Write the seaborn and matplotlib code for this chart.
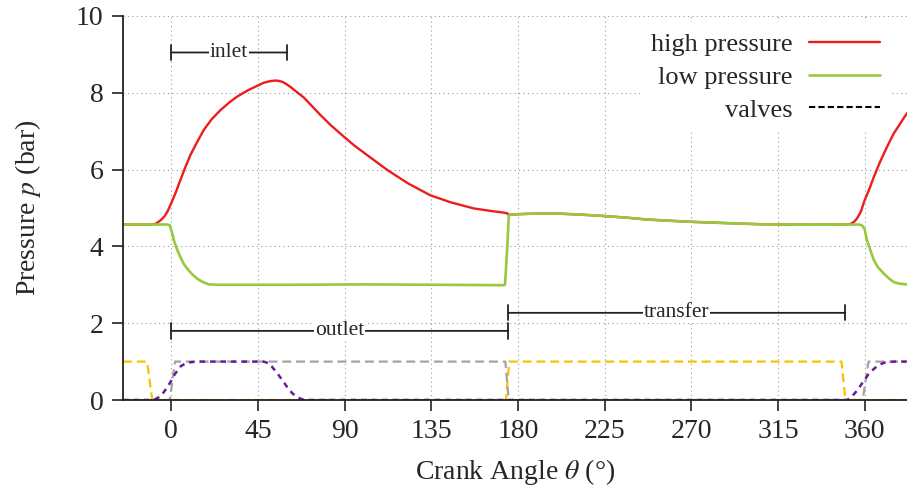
import matplotlib
matplotlib.use("Agg")
import matplotlib.pyplot as plt
import seaborn as sns
from matplotlib.lines import Line2D

# ---------------- data ----------------
theta_hp = [-25, -10, -8, -5.5, -3.5, -2, 0, 2.5, 4.8, 7.5, 10, 13.5, 16.9, 21, 25.6, 30,
            34.2, 40, 45, 48, 51, 54, 56, 58, 60, 62, 64, 66.5, 68.8, 73, 77.5, 83, 89.6, 95,
            101.7, 112.2, 123, 134.6, 145, 157, 165, 172.6, 174.5, 175.3, 176, 186, 198.6,
            212, 225, 236, 247, 258, 270, 281, 292, 304, 315, 333.5, 350, 352.5, 354.5, 356.1,
            358, 360, 362.5, 364.8, 368, 371.7, 375, 378.6, 382]
p_high = [4.57, 4.57, 4.59, 4.68, 4.78, 4.90, 5.12, 5.42, 5.73, 6.08, 6.38, 6.72, 7.03, 7.31,
          7.55, 7.74, 7.90, 8.07, 8.19, 8.26, 8.30, 8.32, 8.31, 8.28, 8.22, 8.15, 8.07, 7.97,
          7.88, 7.66, 7.42, 7.15, 6.86, 6.63, 6.38, 5.99, 5.64, 5.33, 5.15, 4.99, 4.93, 4.88,
          4.86, 4.81, 4.83, 4.85, 4.86, 4.83, 4.79, 4.75, 4.70, 4.67, 4.64, 4.62, 4.60, 4.58,
          4.57, 4.565, 4.57, 4.58, 4.64, 4.73, 4.90, 5.20, 5.50, 5.81, 6.20, 6.60, 6.93, 7.21,
          7.47]

theta_lp = [-25, -2, -0.7, 0.5, 1.4, 3, 4.8, 6.5, 8.3, 11, 13.5, 16.5, 19.6, 25, 60, 100, 140,
            172, 173.3, 174.5, 175.3, 176, 186, 198.6, 212, 225, 236, 247, 258, 270, 281, 292,
            304, 315, 333.5, 350, 357, 358.6, 360, 361.2, 363, 364.8, 367, 370, 372.5, 375.2,
            378, 382]
p_low = [4.57, 4.57, 4.55, 4.35, 4.16, 3.93, 3.72, 3.55, 3.42, 3.27, 3.16, 3.07, 3.01, 3.00,
         3.00, 3.01, 3.00, 2.99, 3.00, 4.00, 4.81, 4.83, 4.85, 4.86, 4.83, 4.79, 4.75, 4.70,
         4.67, 4.64, 4.62, 4.60, 4.58, 4.57, 4.565, 4.57, 4.57, 4.55, 4.45, 4.16, 3.90, 3.64,
         3.45, 3.29, 3.17, 3.07, 3.03, 3.01]

theta_v_yellow = [-25, -12.5, -9.8, 173.8, 175.5, 348, 350, 382]
v_yellow = [1, 1, 0, 0, 1, 1, 0, 0]
theta_v_grey = [-25, -0.7, 2.0, 173.5, 175.2, 359, 362, 382]
v_grey = [0, 0, 1, 1, 0, 0, 1, 1]
theta_v_purple = [-25, -9, -6.5, -4.5, -2, 0, 2, 5, 8, 13, 48, 51, 55, 58, 60.3, 63, 65.5, 69,
                  351, 353.5, 356, 359.6, 362, 364.8, 367, 370, 375, 382]
v_purple = [0, 0, 0.07, 0.16, 0.33, 0.5, 0.68, 0.88, 0.97, 1, 1, 0.95, 0.7, 0.5, 0.33, 0.17,
            0.07, 0, 0, 0.1, 0.24, 0.5, 0.67, 0.81, 0.9, 0.97, 1, 1]

phase_names = ["inlet", "outlet", "transfer"]
phase_start = [0, 0, 175]
phase_end = [60, 175, 350]
phase_level = [9.05, 1.8, 2.27]

x_ticks = [0, 45, 90, 135, 180, 225, 270, 315, 360]
y_ticks = [0, 2, 4, 6, 8, 10]

# ---------------- style ----------------
sns.set_style("ticks")
plt.rcParams["font.family"] = ["Liberation Serif", "DejaVu Serif"]
plt.rcParams["mathtext.fontset"] = "stix"

fig = plt.figure(figsize=(9.07, 4.92), dpi=100)
ax = fig.add_axes([123 / 907, 1 - 400 / 492, 1 - 123 / 907, (400 - 16) / 492])

c_red = "#ee1c1c"
c_green = "#98c93c"
c_yellow = "#f5c400"
c_grey = "#a3a3a3"
c_purple = "#6a1b9a"

sns.lineplot(x=theta_v_yellow, y=v_yellow, ax=ax, color=c_yellow, linewidth=1.6,
             linestyle=(0, (4, 2.2)))
sns.lineplot(x=theta_v_grey, y=v_grey, ax=ax, color=c_grey, linewidth=1.6,
             linestyle=(0, (4, 2.2)))
sns.lineplot(x=theta_v_purple, y=v_purple, ax=ax, color=c_purple, linewidth=1.8,
             linestyle=(0, (2.2, 2.0)))
sns.lineplot(x=theta_hp, y=p_high, ax=ax, color=c_red, linewidth=1.7)
sns.lineplot(x=theta_lp, y=p_low, ax=ax, color=c_green, linewidth=1.9)

ax.set_xlim(-25, 382)
ax.set_ylim(0, 10)
ax.set_xticks(x_ticks)
ax.set_yticks(y_ticks)
ax.tick_params(axis="both", which="major", labelsize=20, direction="out", length=8,
               width=1.2, color="#222222", pad=6)
for s in ["top", "right"]:
    ax.spines[s].set_visible(False)
for s in ["left", "bottom"]:
    ax.spines[s].set_linewidth(1.3)
    ax.spines[s].set_color("#222222")
ax.grid(True, linestyle=(0, (1, 3)), color="#9a9a9a", linewidth=0.8)
ax.set_axisbelow(True)

ax.set_xlabel(r"Crank Angle $\theta$ (°)", fontsize=20, labelpad=9)
ax.set_ylabel(r"Pressure $p$ (bar)", fontsize=20, labelpad=24)

# phase brackets
for name, a, b, lvl in zip(phase_names, phase_start, phase_end, phase_level):
    ax.annotate("", xy=(a, lvl), xytext=(b, lvl),
                arrowprops=dict(arrowstyle="|-|,widthA=0.55,widthB=0.55", color="#222222",
                                lw=1.3, shrinkA=0, shrinkB=0), zorder=4)
    ax.text((a + b) / 2, lvl, name, ha="center", va="center", fontsize=15.5,
            bbox=dict(facecolor="white", edgecolor="none", pad=0.5), zorder=5)

handles = [Line2D([], [], color=c_red, lw=1.7),
           Line2D([], [], color=c_green, lw=1.9),
           Line2D([], [], color="black", lw=1.5, linestyle=(0, (3, 1.5)))]
labels = ["high pressure", "low pressure", "valves"]
leg = ax.legend(handles, labels, loc="upper right", bbox_to_anchor=(0.979, 0.985),
                fontsize=19, markerfirst=False, frameon=True, fancybox=False,
                framealpha=1, edgecolor="none", facecolor="white", borderaxespad=0,
                handlelength=2.7, handletextpad=0.6, labelspacing=0.36, borderpad=0.4)
leg.set_zorder(10)

fig.savefig("out.png", dpi=100)
